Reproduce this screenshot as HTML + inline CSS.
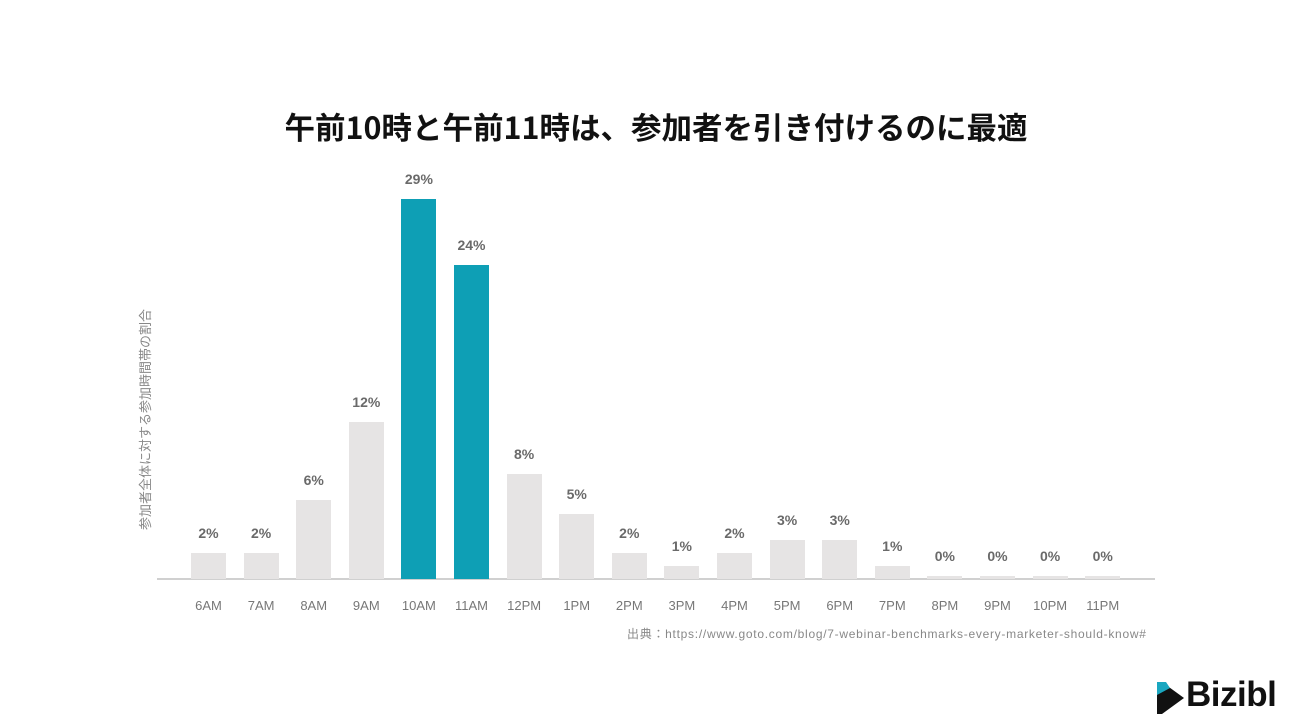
<!DOCTYPE html><html><head><meta charset="utf-8"><style>
body{margin:0;width:1300px;height:728px;background:#fff;position:relative;overflow:hidden;font-family:"Liberation Sans","Noto Sans CJK JP",sans-serif}
.b{position:absolute;width:35px;background:#e6e4e4}
.v{position:absolute;width:60px;text-align:center;font-size:14px;font-weight:bold;color:#6a6a6a}
.l{position:absolute;width:60px;text-align:center;font-size:13px;color:#777;top:598px}
</style></head><body>
<div style="position:absolute;top:104px;left:0;width:1312px;text-align:center;font-size:30.5px;font-weight:bold;color:#111;font-family:'Noto Sans CJK JP',sans-serif">午前10時と午前11時は、参加者を引き付けるのに最適</div>
<div style="position:absolute;left:135px;top:530px;transform:rotate(-90deg);transform-origin:0 0;font-size:13px;color:#888;white-space:nowrap;font-family:'Noto Sans CJK JP',sans-serif">参加者全体に対する参加時間帯の割合</div>
<div style="position:absolute;left:157px;top:578px;width:998px;height:2px;background:#d0d0d0"></div>
<div id="c"></div>
<div style="position:absolute;left:627px;top:625px;font-size:12px;letter-spacing:0.72px;color:#888;white-space:nowrap;font-family:'Liberation Sans','Noto Sans CJK JP',sans-serif">出典：https://www.goto.com/blog/7-webinar-benchmarks-every-marketer-should-know#</div>
<svg style="position:absolute;left:1155px;top:680px" width="32" height="36"><polygon points="2,2 7,2 29,18 7,34 2,34" fill="#111"/><polygon points="2,2 11,2 15,8 2,15" fill="#1aa7c0"/></svg>
<div style="position:absolute;left:1186px;top:675px;font-size:35px;font-weight:bold;color:#111;letter-spacing:-0.5px">Bizibl</div>
<script>
var d=[2,2,6,12,29,24,8,5,2,1,2,3,3,1,0,0,0,0],n=["6AM","7AM","8AM","9AM","10AM","11AM","12PM","1PM","2PM","3PM","4PM","5PM","6PM","7PM","8PM","9PM","10PM","11PM"],h="";
for(var i=0;i<18;i++){var x=191+i*52.6,ht=d[i]?d[i]*13.1:3,t=579-ht;
h+='<div class="b" style="left:'+x+'px;top:'+t+'px;height:'+ht+'px;background:'+(i==4||i==5?'#0e9fb5':'#e6e4e4')+'"></div>';
h+='<div class="v" style="left:'+(x-12.5)+'px;top:'+(t-28)+'px">'+d[i]+'%</div>';
h+='<div class="l" style="left:'+(x-12.5)+'px">'+n[i]+'</div>';}
document.getElementById("c").innerHTML=h;
</script>
</body></html>
